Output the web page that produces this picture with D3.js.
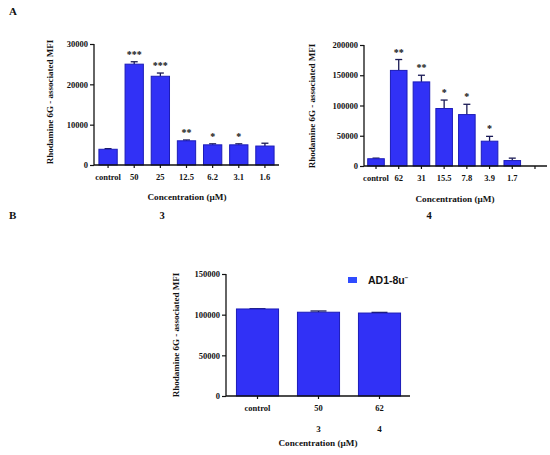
<!DOCTYPE html>
<html>
<head>
<meta charset="utf-8">
<title>Rhodamine 6G accumulation</title>
<script src="https://cdn.jsdelivr.net/npm/d3@7"></script>
<style>
  body { margin: 0; background: #fff; }
  text { font-family: "Liberation Serif", "DejaVu Serif", serif; fill: #111; }
  .tick text { font-weight: bold; font-size: 8.5px; }
  .lbl { font-weight: bold; }
</style>
</head>
<body>
<div id="chart"></div>
<script>
// data
var cats3 = ["control", "50", "25", "12.5", "6.2", "3.1", "1.6"]
var mfi3 = [3900, 25000, 22000, 6000, 5000, 5000, 4700]
var err3 = [150, 600, 800, 200, 250, 250, 700]
var sig3 = ["", "***", "***", "**", "*", "*", ""]
var ticks3 = [0, 10000, 20000, 30000]

var cats4 = ["control", "62", "31", "15.5", "7.8", "3.9", "1.7", ""]
var mfi4 = [12000, 158000, 139000, 95000, 85000, 41000, 9000, null]
var err4 = [1000, 18000, 11000, 14000, 17000, 8000, 4000, null]
var sig4 = ["", "**", "**", "*", "*", "*", "", ""]
var ticks4 = [0, 50000, 100000, 150000, 200000]

var catsB = ["control", "50", "62"]
var compB = ["", "3", "4"]
var mfiB = [107000, 103000, 102000]
var errB = [300, 1500, 800]
var ticksB = [0, 50000, 100000, 150000]

var yTitle = "Rhodamine 6G - associated MFI"
var xTitle = "Concentration (\u00b5M)"

var W = 550, H = 455
var svg = d3.select("#chart").append("svg")
  .attr("width", W).attr("height", H)

// one bar panel
function drawPanel(p) {
  var g = svg.append("g")
  var x = d3.scaleBand().domain(p.cats)
    .range([p.x0 + 1, p.x1]).paddingInner(p.pi).paddingOuter(p.po)
  var y = d3.scaleLinear().domain([0, p.ymax]).range([p.y0, p.y1])

  var rows = p.cats.map(function(c, i) {
    return {c: c, v: p.vals[i], e: p.errs[i], s: p.sig ? p.sig[i] : ""}
  }).filter(function(d) { return d.v != null })

  // error bars (upper only)
  var eb = g.selectAll(".err").data(rows).enter().append("g")
  eb.append("line")
    .attr("x1", function(d) { return x(d.c) + x.bandwidth() / 2 })
    .attr("x2", function(d) { return x(d.c) + x.bandwidth() / 2 })
    .attr("y1", function(d) { return y(d.v) })
    .attr("y2", function(d) { return y(d.v + d.e) })
    .attr("stroke", "#1a1a55").attr("stroke-width", 1.3)
  eb.append("line")
    .attr("x1", function(d) { return x(d.c) + x.bandwidth() / 2 - p.cap })
    .attr("x2", function(d) { return x(d.c) + x.bandwidth() / 2 + p.cap })
    .attr("y1", function(d) { return y(d.v + d.e) })
    .attr("y2", function(d) { return y(d.v + d.e) })
    .attr("stroke", "#1a1a55").attr("stroke-width", 1.3)

  g.selectAll(".bar").data(rows).enter().append("rect")
    .attr("x", function(d) { return x(d.c) })
    .attr("width", x.bandwidth())
    .attr("y", function(d) { return y(d.v) })
    .attr("height", function(d) { return y(0) - y(d.v) })
    .attr("fill", "#3131f6")
    .attr("stroke", "#1c1cb8").attr("stroke-width", 1)

  g.selectAll(".sig").data(rows).enter().append("text")
    .attr("x", function(d) { return x(d.c) + x.bandwidth() / 2 })
    .attr("y", function(d) { return y(d.v + d.e) - 4 })
    .attr("text-anchor", "middle")
    .attr("class", "lbl").style("font-size", "10px")
    .text(function(d) { return d.s })

  // y axis
  var ya = g.append("g").attr("transform", "translate(" + p.x0 + ",0)")
    .call(d3.axisLeft(y).tickValues(p.ticks).tickFormat(d3.format("d"))
      .tickSize(4).tickPadding(2))
  ya.select(".domain").attr("stroke", "#111").attr("stroke-width", 1.3)
    .attr("d", "M0," + y(0) + "V" + y(p.ymax))
  ya.selectAll(".tick line").attr("stroke", "#111").attr("stroke-width", 1.2)

  // x axis
  var xa = g.append("g").attr("transform", "translate(0," + p.y0 + ")")
    .call(d3.axisBottom(x).tickSize(3).tickPadding(p.tp))
  xa.select(".domain").attr("stroke", "#111").attr("stroke-width", 1.3)
    .attr("d", "M" + p.x0 + ",0H" + p.xEnd)
  xa.selectAll(".tick line").attr("stroke", "#111").attr("stroke-width", 1.2)

  if (p.comp) {
    g.selectAll(".comp").data(p.comp).enter().append("text")
      .attr("x", function(d, i) { return x(p.cats[i]) + x.bandwidth() / 2 })
      .attr("y", p.compY)
      .attr("text-anchor", "middle").attr("class", "lbl")
      .style("font-size", "9px")
      .text(function(d) { return d })
  }

  g.append("text")
    .attr("transform", "translate(" + p.titleX + "," + p.titleY + ") rotate(-90)")
    .attr("text-anchor", "middle").attr("class", "lbl")
    .style("font-size", "9px").text(yTitle)

  g.append("text")
    .attr("x", p.xtX).attr("y", p.xtY)
    .attr("text-anchor", "middle").attr("class", "lbl")
    .style("font-size", "9.2px").text(xTitle)

  if (p.num) {
    svg.append("text").attr("x", p.numX).attr("y", p.numY)
      .attr("text-anchor", "middle").attr("class", "lbl")
      .style("font-size", "10.5px").text(p.num)
  }
  return {x: x, y: y}
}

drawPanel({cats: cats3, vals: mfi3, errs: err3, sig: sig3, ticks: ticks3, ymax: 30000,
  x0: 94, x1: 278, xEnd: 279, y0: 165, y1: 44, pi: 0.3, po: 0.15, cap: 3.5, tp: 6,
  titleX: 53, titleY: 102, xtX: 187, xtY: 200, num: "3", numX: 162, numY: 219})

drawPanel({cats: cats4, vals: mfi4, errs: err4, sig: sig4, ticks: ticks4, ymax: 200000,
  x0: 364, x1: 546, xEnd: 547, y0: 166, y1: 45, pi: 0.27, po: 0.12, cap: 3.5, tp: 6,
  titleX: 315, titleY: 106, xtX: 455, xtY: 202, num: "4", numX: 429, numY: 219})

var pb = drawPanel({cats: catsB, vals: mfiB, errs: errB, ticks: ticksB, ymax: 150000,
  x0: 226, x1: 410, xEnd: 410, y0: 396, y1: 274, pi: 0.31, po: 0.155, cap: 8, tp: 6,
  comp: compB, compY: 432, titleX: 179, titleY: 335, xtX: 318, xtY: 446})

// panel letters
svg.append("text").attr("x", 9).attr("y", 15).attr("class", "lbl")
  .style("font-size", "11px").text("A")
svg.append("text").attr("x", 9).attr("y", 219).attr("class", "lbl")
  .style("font-size", "11px").text("B")

// legend for panel B
var lg = svg.append("g").attr("transform", "translate(348,277)")
lg.append("rect").attr("width", 9).attr("height", 6).attr("fill", "#2f4cff")
var lt = lg.append("text").attr("x", 20).attr("y", 7)
  .style("font-family", "'Liberation Sans', Arial, sans-serif")
  .style("font-weight", "bold").style("font-size", "10.5px")
lt.append("tspan").text("AD1-8u")
lt.append("tspan").attr("dy", -4).style("font-size", "6px").text("\u2212")
</script>
</body>
</html>
